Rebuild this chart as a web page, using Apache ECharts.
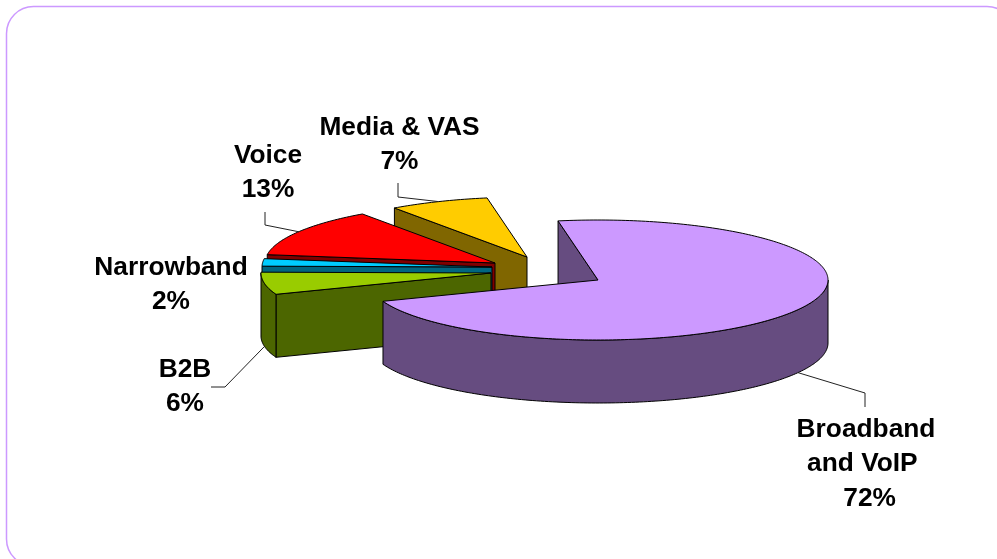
<!DOCTYPE html>
<html>
<head>
<meta charset="utf-8">
<style>html,body{margin:0;padding:0;background:#fff}#chart{width:997px;height:559px}</style>
<script src="https://cdn.jsdelivr.net/npm/echarts@6/dist/echarts.min.js"></script>
</head>
<body>
<div id="chart"></div>
<script>
// Revenue split, listed clockwise from the top of the pie
const categories = ['Broadband\nand VoIP ', 'B2B', 'Narrowband', 'Voice', 'Media & VAS'];
const shares = [72, 6, 2, 13, 7];
const sharePrefix = [' ', '', '', '', ''];

// Fill of the top surface and of the shaded sides
const topColors = ['#CC99FF', '#99CC00', '#00CCFF', '#FF0000', '#FFCC00'];
const sideColors = ['#664C80', '#4C6600', '#006680', '#800000', '#806600'];

// Pie projection
const pieCentre = [530, 268];
const radiusX = 230;
const radiusY = 60;
const depth = 63;
const startAngle = -10;            // degrees clockwise from the top
const explode = [[68, 12], [-39, 5], [-38, -1], [-35, -5], [-3, -11]];
const paintRank = [4, 3, 2, 1, 0]; // far slices are painted first

// Label anchors: centre x, top y; leader knee and tail (null when unlabelled by a line)
const labelPos = [[866, 412], [185, 352], [171, 250], [268, 138], [399.5, 110]];
const leaderKnee = [[[865, 393], [865, 407]], [[225, 387], [211, 387]], null, [[265, 225], [265, 212]], [[398, 197], [398, 183]]];

const total = shares.reduce((a, b) => a + b, 0);
const sliceAngles = [];
shares.reduce((from, v) => {
  const to = from + v / total * 360;
  sliceAngles.push([from, to]);
  return to;
}, startAngle);

function rimPoint(c, deg, drop) {
  const r = deg * Math.PI / 180;
  return [c[0] + radiusX * Math.sin(r), c[1] - radiusY * Math.cos(r) + (drop || 0)];
}
function arc(c, a, b, drop) {
  const pts = [];
  const n = Math.max(2, Math.ceil(Math.abs(b - a)));
  for (let i = 0; i <= n; i++) pts.push(rimPoint(c, a + (b - a) * i / n, drop));
  return pts;
}
function poly(points, fill, z2) {
  return { type: 'polygon', z2, shape: { points }, style: { fill, stroke: '#000', lineWidth: 1, lineJoin: 'round' } };
}

function renderSlice(params, api) {
  const i = params.dataIndex;
  const [from, to] = sliceAngles[i];
  const c = [pieCentre[0] + explode[i][0], pieCentre[1] + explode[i][1]];
  const base = paintRank[i] * 10 + 1;
  const children = [];

  // Cut faces that turn towards the viewer
  [[from, Math.sin(from * Math.PI / 180) < 0], [to, Math.sin(to * Math.PI / 180) > 0]].forEach(([deg, visible]) => {
    if (!visible) return;
    const rim = rimPoint(c, deg);
    children.push(poly([c, rim, [rim[0], rim[1] + depth], [c[0], c[1] + depth]], sideColors[i], base));
  });

  // Outer wall along the front half of the ellipse
  const wallFrom = Math.max(from, 90);
  const wallTo = Math.min(to, 270);
  if (wallTo > wallFrom) {
    children.push(poly(arc(c, wallFrom, wallTo).concat(arc(c, wallTo, wallFrom, depth)), sideColors[i], base + 1));
  }

  // Top surface
  children.push(poly([c].concat(arc(c, from, to)), topColors[i], base + 2));

  // Leader line from the rim at the slice's mid angle
  if (leaderKnee[i]) {
    const mid = (from + to) / 2;
    const onWall = mid > 90 && mid < 270;
    const tip = rimPoint(c, mid, onWall ? depth : 0);
    children.push({
      type: 'polyline', z2: 100,
      shape: { points: [tip].concat(leaderKnee[i]) },
      style: { fill: 'none', stroke: '#222', lineWidth: 1 }
    });
  }

  // Category and share
  children.push({
    type: 'text', z2: 101,
    style: {
      text: categories[i] + '\n' + sharePrefix[i] + api.value(0) + '%',
      x: labelPos[i][0], y: labelPos[i][1],
      align: 'center', verticalAlign: 'top',
      font: 'bold 26.3px "Liberation Sans", Arial, sans-serif',
      lineHeight: 34.5, fill: '#000'
    }
  });
  return { type: 'group', children };
}

const chart = echarts.init(document.getElementById('chart'), null, { renderer: 'canvas' });
chart.setOption({
  animation: false,
  backgroundColor: '#fff',
  graphic: [{
    type: 'rect', silent: true,
    shape: { x: 6.5, y: 6.5, width: 1007.5, height: 559.5, r: 27 },
    style: { fill: 'none', stroke: '#CC99FF', lineWidth: 1.5 }
  }],
  series: [{
    type: 'custom',
    coordinateSystem: 'none',
    silent: true,
    data: shares,
    renderItem: renderSlice
  }]
});
</script>
</body>
</html>
